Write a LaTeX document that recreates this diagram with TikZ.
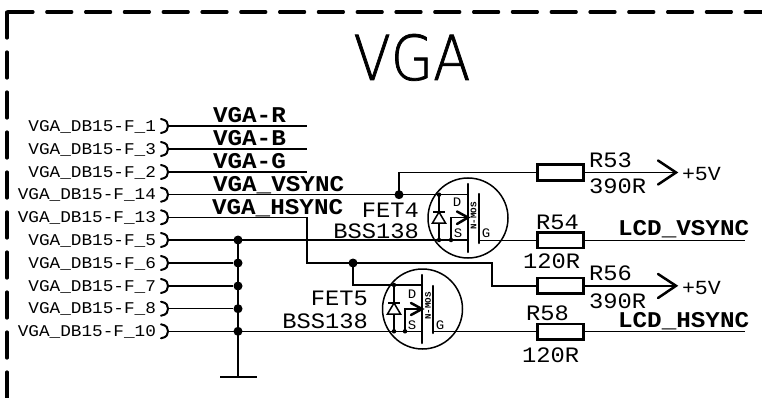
\documentclass[tikz,border=0pt]{standalone}
\usepackage{fontspec}
\newfontfamily\vfont[FakeStretch=1.08]{Liberation Mono}
\newfontfamily\tfont[FakeStretch=0.88,FakeBold=1.2]{DejaVu Sans ExtraLight}
\newcommand{\vsz}[1]{\fontsize{#1}{#1}\selectfont}
\tikzset{
 wire/.style={line width=1.5pt},
 lab/.style={inner sep=0pt,outer sep=0pt,text depth=0pt,text=black},
 pinlab/.style={lab,anchor=east,text height=10.5pt,font=\vfont\vsz{16.4}},
 big/.style={lab,text height=14.5pt,font=\vfont\vsz{22}},
 sig/.style={lab,anchor=west,text height=14.5pt,font=\vfont\bfseries\vsz{22.5}},
 mid/.style={lab,text height=8.5pt,font=\vfont\vsz{13}},
 mos/.style={lab,rotate=90,text height=5.5pt,font=\vfont\bfseries\vsz{8.5}},
 res/.style={draw,line width=2.5pt,minimum width=46pt,minimum height=15.5pt,inner sep=0pt,outer sep=0pt},
 dot/.style={circle,fill=black,inner sep=0pt,minimum size=#1},
 dot/.default=9pt,
 conn/.style={line width=2pt,line cap=round},
 heavy/.style={line width=2.5pt,line cap=round},
 frame/.style={line width=3.2pt,line cap=round},
}
\begin{document}
\begin{tikzpicture}[x=1pt,y=-1pt]
\useasboundingbox (0,0) rectangle (762,398);
% frame
\coordinate (fc) at (7,12);
\coordinate (fr) at (762,12);
\coordinate (fb) at (7,398);
\draw[frame,dash pattern=on 25pt off 13.8pt] (fc) ++(1,0) -- (fr);
\draw[frame,dash pattern=on 26pt off 14pt] (fc) -- (fb);
% title
\node[lab,anchor=center,text height=45pt,font=\tfont\vsz{62}] (title) at (412,57.5) {VGA};
% connector pins
\foreach \n/\t/\y in {a/1/126,b/3/149,c/2/172,d/14/194.7,e/13/217.3,f/5/240,g/6/263,h/7/286,i/8/308.7,j/10/331.3}{
  \node[pinlab] (lab\n) at (156,\y) {VGA\_DB15-F\_\t};
  \coordinate (p\n) at (168,\y);
  \draw[conn] (161,\y-7) .. controls (167,\y-6) and (168,\y-3) .. (p\n) .. controls (168,\y+3) and (167,\y+6) .. (161,\y+7);
}
% signal wires
\coordinate (ea) at (307,126);
\coordinate (eb) at (307,149);
\coordinate (ec) at (307,172);
\coordinate (ee) at (307,217.3);
\draw[wire] (pa) -- (ea);
\draw[wire] (pb) -- (eb);
\draw[wire] (pc) -- (ec);
\node[sig] (nr) at (213,115) {VGA-R};
\node[sig] (nb) at (213,138) {VGA-B};
\node[sig] (ng) at (213,161) {VGA-G};
\node[sig] (nv) at (213,184) {VGA\_VSYNC};
\node[sig] (nh) at (212,207) {VGA\_HSYNC};
% resistors
\node[res] (r53) at (560.5,172.5) {};
\node[res] (r54) at (560.5,240.3) {};
\node[res] (r56) at (560.5,285.8) {};
\node[res] (r58) at (560.5,331.5) {};
\node[big,anchor=west] (t53) at (589,160) {R53};
\node[big,anchor=west] (v53) at (589,186) {390R};
\node[big,anchor=west] (t54) at (536,222) {R54};
\node[big,anchor=west] (v54) at (523,261) {120R};
\node[big,anchor=west] (t56) at (589,273) {R56};
\node[big,anchor=west] (v56) at (589,301) {390R};
\node[big,anchor=west] (t58) at (526,313) {R58};
\node[big,anchor=west] (v58) at (522,355) {120R};
% supply arrows
\coordinate (a1) at (676,172.5);
\coordinate (a2) at (676,285.8);
\draw[wire] (r53.east) -- (a1);
\draw[wire] (r56.east) -- (a2);
\draw[heavy,line join=miter] (658,160.5) -- (a1) -- (658,184.5);
\draw[heavy,line join=miter] (658,274) -- (a2) -- (658,298);
\node[lab,anchor=west,text height=13pt,font=\vfont\vsz{20}] (p1) at (682,174) {+5V};
\node[lab,anchor=west,text height=13pt,font=\vfont\vsz{20}] (p2) at (682,288) {+5V};
% output wires
\coordinate (o1) at (745,240.3);
\coordinate (o2) at (745,331.5);
\draw[wire] (r54.east) -- (o1);
\draw[wire] (r58.east) -- (o2);
\node[sig] (lv) at (618,228) {LCD\_VSYNC};
\node[sig] (lh) at (618,320) {LCD\_HSYNC};
% ground rail
\coordinate (gt) at (238,240);
\coordinate (gb) at (238,377);
\coordinate (gl) at (220,377);
\coordinate (gr) at (257,377);
\draw[wire] (gt) -- (gb);
\draw[line width=2pt] (gl) -- (gr);
\foreach \n/\y in {f/240,g/263,h/286,i/308.7,j/331.3}{
  \node[dot] (g\n) at (238,\y) {};
}
\draw[wire] (pg) -- (gg);
\draw[wire] (ph) -- (gh);
\draw[wire] (pi) -- (gi);
% FET4
\node[circle,draw,line width=1.5pt,minimum size=80pt,inner sep=0pt] (fet4) at (468,218) {};
\coordinate (d4) at (468,194.7);
\coordinate (s4) at (468,240);
\coordinate (g4) at (479,240.3);
\node[dot] (j4) at (399,194.7) {};
\draw[wire] (pd) -- (d4);
\draw[wire] (j4.center) |- (r53.west);
\draw[wire] (pf) -- (s4);
\draw[wire] (g4) -- (r54.west);
\draw[heavy] (468,184) -- (468,252);
\draw[heavy] (479,194) -- (479,243);
\node[dot=4.5pt] (dd4) at (439,194.7) {};
\node[dot=4.5pt] (ds4) at (439,240) {};
\node[dot=4.5pt] (db4) at (451,240) {};
\draw[wire] (dd4.center) -- (ds4.center);
\draw[wire,fill=white] (439,212) -- (445.5,223) -- (432.5,223) -- cycle;
\draw[wire] (433,212) -- (445,212);
\draw[wire] (db4.center) -- (451,217.5) -- (468,217.5);
\draw[heavy,line join=miter] (457,211.5) -- (468,217.5) -- (457,224);
\node[mid] (D4) at (457,202) {D};
\node[mid] (S4) at (458,233) {S};
\node[mid] (G4) at (486,233) {G};
\node[mos] (m4) at (473.5,216) {N-MOS};
\node[big,anchor=east] (n4) at (419,210) {FET4};
\node[big,anchor=east] (b4) at (419,231) {BSS138};
% HSYNC routing
\node[dot] (j5) at (353,263) {};
\coordinate (k1) at (307,263);
\coordinate (k2) at (492,263);
\coordinate (k3) at (492,285.8);
\coordinate (d5) at (422,285);
\draw[wire] (pe) -- (ee) -- (k1) -- (k2) -- (k3) -- (r56.west);
\draw[wire] (j5.center) |- (d5);
% FET5
\node[circle,draw,line width=1.5pt,minimum size=80pt,inner sep=0pt] (fet5) at (422.5,309) {};
\coordinate (s5) at (422,331.3);
\coordinate (g5) at (433,331.5);
\draw[wire] (pj) -- (s5);
\draw[wire] (g5) -- (r58.west);
\draw[heavy] (422,275) -- (422,343);
\draw[heavy] (433,286) -- (433,333);
\node[dot=4.5pt] (dd5) at (394,285) {};
\node[dot=4.5pt] (ds5) at (394,331.3) {};
\node[dot=4.5pt] (db5) at (405,331.3) {};
\draw[wire] (dd5.center) -- (ds5.center);
\draw[wire,fill=white] (394,303) -- (400.5,314) -- (387.5,314) -- cycle;
\draw[wire] (388,303) -- (400,303);
\draw[wire] (db5.center) -- (405,309) -- (422,309);
\draw[heavy,line join=miter] (411,303) -- (422,309) -- (411,315);
\node[mid] (D5) at (412,294) {D};
\node[mid] (S5) at (412,325) {S};
\node[mid] (G5) at (440,325) {G};
\node[mos] (m5) at (428,306) {N-MOS};
\node[big,anchor=east] (n5) at (368,298) {FET5};
\node[big,anchor=east] (b5) at (368,321) {BSS138};
\end{tikzpicture}
\end{document}
